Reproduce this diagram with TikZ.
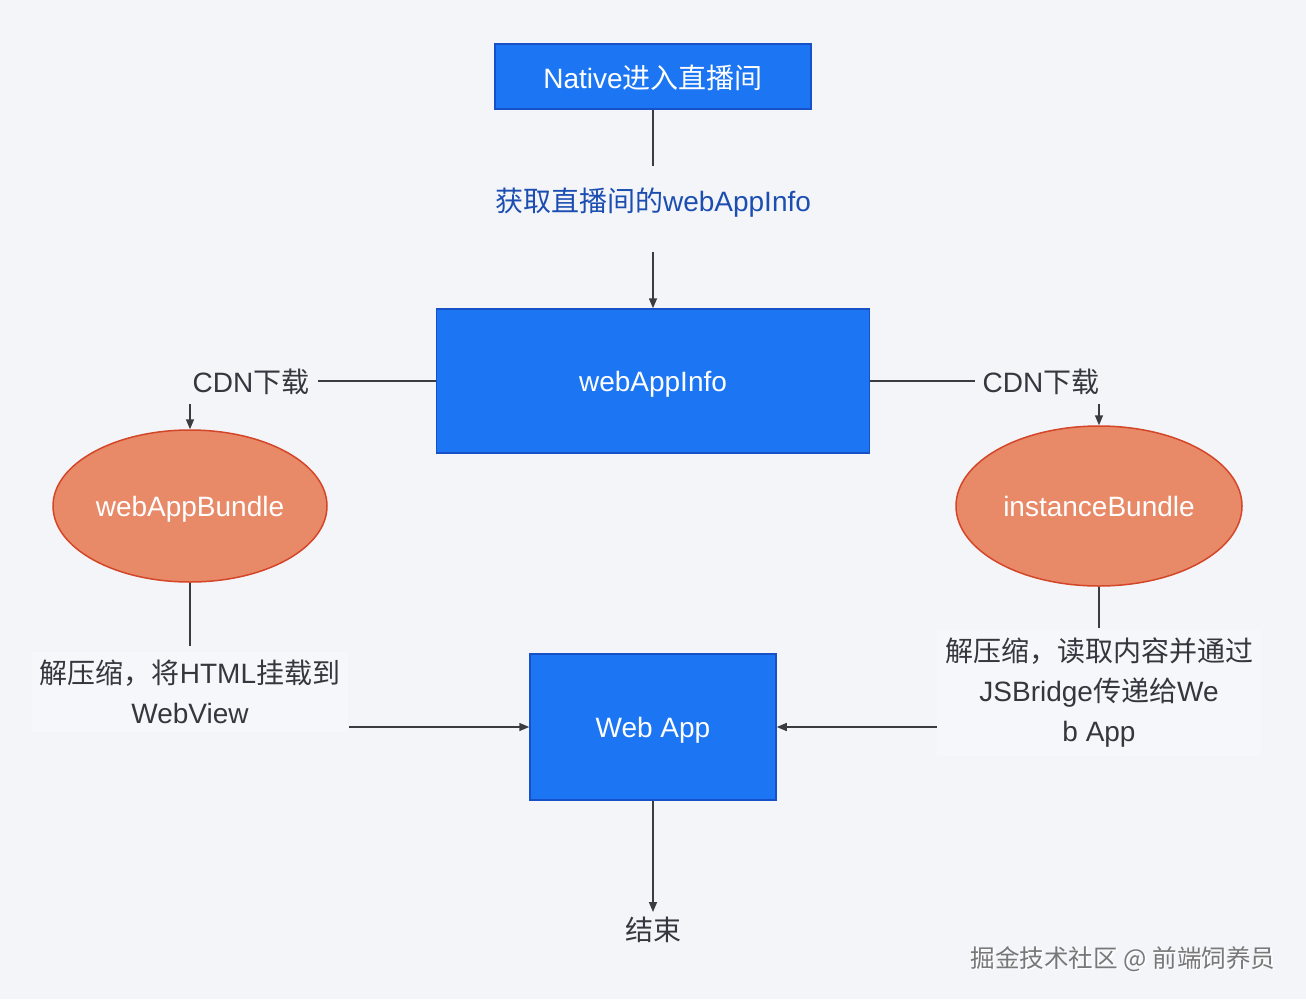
\documentclass[tikz,border=0pt]{standalone}
\usepackage{fontspec}
\setmainfont{Liberation Sans}
\newfontfamily\cjk{Noto Sans CJK SC}
\newcommand{\zh}[1]{{\cjk #1}}
\usetikzlibrary{shapes.geometric,arrows.meta}
\definecolor{bg}{RGB}{243,245,249}
\definecolor{boxfill}{RGB}{28,117,243}
\definecolor{boxline}{RGB}{24,80,200}
\definecolor{ellfill}{RGB}{232,137,104}
\definecolor{ellline}{RGB}{212,70,40}
\definecolor{txt}{RGB}{52,56,62}
\definecolor{bluetxt}{RGB}{28,78,178}
\definecolor{conn}{RGB}{58,60,64}
\definecolor{labbg}{RGB}{246,247,250}
\definecolor{wm}{RGB}{120,120,120}
\tikzset{
  bluebox/.style={rectangle, fill=boxfill, draw=boxline, line width=1.5pt, text=white, font=\fontsize{28}{32}\selectfont, inner sep=0pt, text depth=0pt},
  bundle/.style={ellipse, fill=ellfill, draw=ellline, line width=1.5pt, text=white, font=\fontsize{28}{32}\selectfont, inner sep=0pt, text depth=0pt},
  lab/.style={text=txt, font=\fontsize{28}{40}\selectfont, align=center, inner sep=4pt},
  conline/.style={draw=conn, line width=1.5pt},
  conarrow/.style={draw=conn, line width=1.5pt, -{Triangle[length=10pt,width=8pt]}},
}
\begin{document}
\begin{tikzpicture}[x=1pt,y=-1pt]
\useasboundingbox (0,0) rectangle (1306,999);
\fill[bg] (0,0) rectangle (1306,999);

% nodes
\node[bluebox, minimum width=316pt, minimum height=65pt] (native) at (653,76.5) {Native\zh{进入直播间}};
\node[lab, text=bluetxt] (lab1) at (653,203) {\zh{获取直播间的}webAppInfo};
\node[bluebox, minimum width=433pt, minimum height=144pt] (info) at (653,381) {webAppInfo};

\node[lab] (cdnL) at (251,382) {CDN\zh{下载}};
\node[lab] (cdnR) at (1041,382) {CDN\zh{下载}};

\node[bundle, minimum width=274pt, minimum height=152pt] (ell1) at (190,506) {webAppBundle};
\node[bundle, minimum width=286pt, minimum height=160pt] (ell2) at (1099,506) {instanceBundle};

\node[lab, fill=labbg, inner xsep=8pt, inner ysep=8pt] (unzipL) at (190,692) {\zh{解压缩，将}HTML\zh{挂载到}\\WebView};
\node[lab, fill=labbg, inner xsep=8pt, inner ysep=8pt] (unzipR) at (1099,693) {\zh{解压缩，读取内容并通过}\\JSBridge\zh{传递给}We\\b App};

\node[bluebox, minimum width=246pt, minimum height=146pt] (webapp) at (653,727) {Web App};
\node[lab] (endn) at (653,930) {\zh{结束}};

% watermark
\node[font=\cjk\fontsize{24.6}{28}\selectfont, text=white, anchor=east] (wmshadow) at (1280.5,960.5) {掘金技术社区 @ 前端饲养员};
\node[font=\cjk\fontsize{24.6}{28}\selectfont, text=wm, anchor=east] (wmark) at (1279,959) {掘金技术社区 @ 前端饲养员};

% helper coordinates at the label ends
\coordinate (lab1top) at ([yshift=37pt]lab1.center);
\coordinate (lab1bot) at ([yshift=-49pt]lab1.center);
\coordinate (cdnLbot) at ([yshift=-22pt]cdnL.center);
\coordinate (cdnRbot) at ([yshift=-22pt]cdnR.center);
\coordinate (cdnLend) at ([xshift=67pt]cdnL.center);
\coordinate (cdnRend) at ([xshift=-66pt]cdnR.center);
\coordinate (unzipLtop) at ([yshift=46pt]unzipL.center);
\coordinate (unzipRtop) at ([yshift=65pt]unzipR.center);
\coordinate (unzipLout) at ([xshift=159pt]unzipL.center);
\coordinate (unzipRout) at ([xshift=-162pt]unzipR.center);
\coordinate (endtop) at ([yshift=18pt]endn.center);

% connectors
\draw[conline] (native.south) -- (lab1top -| native.south);
\draw[conarrow] (lab1bot -| info.north) -- (info.north);

\draw[conline] (info.west) -- (cdnLend |- info.west);
\draw[conarrow] (cdnLbot -| ell1.north) -- (ell1.north);
\draw[conline] (ell1.south) -- (unzipLtop -| ell1.south);
\draw[conarrow] (unzipLout |- webapp.west) -- (webapp.west);

\draw[conline] (info.east) -- (cdnRend |- info.east);
\draw[conarrow] (cdnRbot -| ell2.north) -- (ell2.north);
\draw[conline] (ell2.south) -- (unzipRtop -| ell2.south);
\draw[conarrow] (unzipRout |- webapp.east) -- (webapp.east);

\draw[conarrow] (webapp.south) -- (endtop -| webapp.south);
\end{tikzpicture}
\end{document}
